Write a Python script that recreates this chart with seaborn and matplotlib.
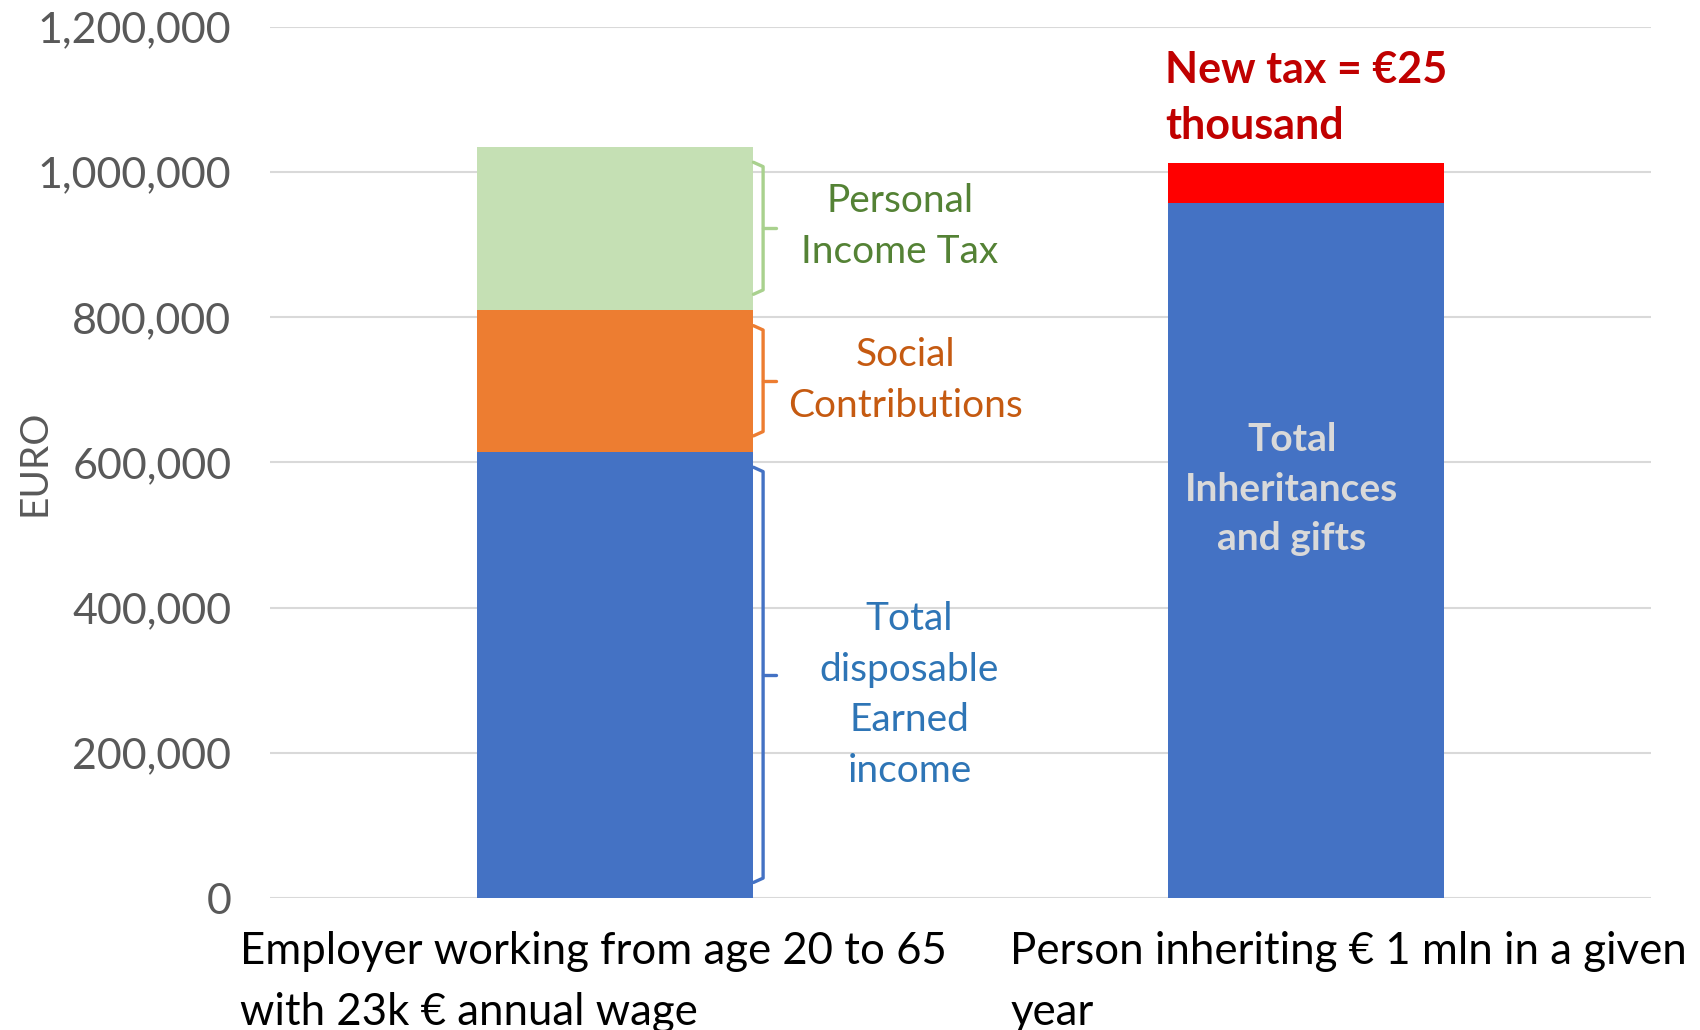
import pandas as pd
import matplotlib.pyplot as plt
import seaborn as sns
from matplotlib.ticker import FuncFormatter

# --- data ---
categories = ["Employer working from age 20 to 65\nwith 23k € annual wage",
              "Person inheriting € 1 mln in a given\nyear"]
worker_segments = ["Total disposable Earned income", "Social Contributions", "Personal Income Tax"]
worker_values = [615000, 195000, 225000]
heir_segments = ["Total Inheritances and gifts", "New tax"]
heir_values = [958000, 55000]
y_ticks = [0, 200000, 400000, 600000, 800000, 1000000, 1200000]

seg_colors = {
    "Total disposable Earned income": "#4472C4",
    "Social Contributions": "#ED7D31",
    "Personal Income Tax": "#C5E0B4",
    "Total Inheritances and gifts": "#4472C4",
    "New tax": "#FF0000",
}

# long table of segments with cumulative tops
rows = []
for cat, segs, vals in [(categories[0], worker_segments, worker_values),
                        (categories[1], heir_segments, heir_values)]:
    top = 0
    for i, (s, v) in enumerate(zip(segs, vals)):
        top += v
        rows.append({"category": cat, "segment": s, "level": i, "bottom": top - v, "top": top})
df = pd.DataFrame(rows)

sns.set_theme(style="white")
plt.rcParams["font.family"] = ["Lato", "DejaVu Sans"]

fig = plt.figure(figsize=(17, 10.3), dpi=100)
ax = fig.add_axes([0.159, 0.128, 0.812, 0.846])

# draw stacked bars top level first, lower levels on top of them
max_level = df["level"].max()
for lvl in range(max_level, -1, -1):
    layer = []
    for cat in categories:
        sub = df[df["category"] == cat]
        row = sub[sub["level"] == min(lvl, sub["level"].max())].iloc[0]
        layer.append(row)
    layer = pd.DataFrame(layer)
    sns.barplot(data=layer, x="category", y="top", hue="category",
                palette=[seg_colors[s] for s in layer["segment"]],
                order=categories, hue_order=categories,
                width=0.4, saturation=1, legend=False, ax=ax, zorder=3,
                linewidth=0)

ax.set_xlim(-0.5, 1.5)
ax.set_ylim(0, 1200000)
ax.set_yticks(y_ticks)
ax.yaxis.set_major_formatter(FuncFormatter(lambda v, p: f"{int(v):,}"))
ax.grid(axis="y", color="#D9D9D9", linewidth=1.5, zorder=0)
ax.set_axisbelow(True)
for sp in ax.spines.values():
    sp.set_visible(False)
ax.tick_params(axis="y", labelsize=31, labelcolor="#595959", length=0, pad=28)
ax.set_xticks([0, 1])
ax.set_xticklabels(["", ""])
ax.tick_params(axis="x", length=0)
ax.set_xlabel("")
ax.set_ylabel("")

# y axis title
fig.text(0.0205, 0.128 + 0.846 * 0.5, "EURO", rotation=90, ha="center", va="center",
         fontsize=28, color="#595959")

# category labels, left aligned under each bar
for xpos, lab in zip([-0.544, 0.572], categories):
    ax.text(xpos, -0.038, lab, transform=ax.get_xaxis_transform(),
            ha="left", va="top", fontsize=31.5, color="black", linespacing=1.6)

# braces on the right side of the worker bar
def brace(ax, y0, y1, color, x=0.2):
    inset = 0.018 * 1200000
    lo, hi = y0 + inset, y1 - inset
    mid = (lo + hi) / 2
    xv = x + 0.014
    ax.plot([x, xv, xv, x], [lo, lo + 6000, hi - 6000, hi], color=color, lw=2.4,
            solid_joinstyle="round", zorder=4, clip_on=False)
    ax.plot([xv, xv + 0.018], [mid, mid], color=color, lw=2.4, zorder=4)

w = df[df["category"] == categories[0]]
brace_colors = ["#4472C4", "#ED7D31", "#A9D18E"]
for (_, r), c in zip(w.iterrows(), brace_colors):
    brace(ax, r["bottom"], r["top"], c)

txt_kw = dict(ha="center", va="center", fontsize=28, linespacing=1.5)
ax.text(0.412, 925000, "Personal\nIncome Tax", color="#548235", **txt_kw)
ax.text(0.421, 713000, "Social\nContributions", color="#C55A11", **txt_kw)
ax.text(0.426, 280000, "Total\ndisposable\nEarned\nincome", color="#2E75B6", **txt_kw)
ax.text(0.98, 563000, "Total\nInheritances\nand gifts", color="#D9D9D9",
        fontweight="bold", **txt_kw)
ax.text(0.797, 1102000, "New tax = €25\nthousand", color="#C00000", ha="left",
        va="center", fontsize=31, fontweight="bold", linespacing=1.5)

fig.savefig("out.png", dpi=100)
